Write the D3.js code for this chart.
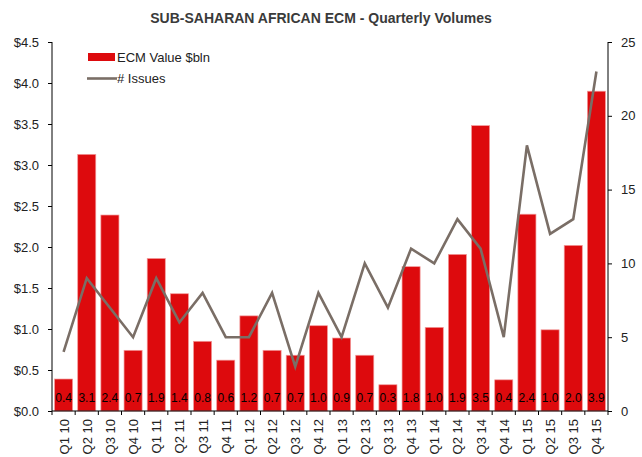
<!DOCTYPE html>
<html>
<head>
<meta charset="utf-8">
<script src="https://cdn.jsdelivr.net/npm/d3@7"></script>
<style>
  body { margin: 0; background: #fff; }
  text { font-family: "Liberation Sans", Arial, sans-serif; }
</style>
</head>
<body>
<div id="chart"></div>
<script>
// quarters, ECM value ($bln) and number of issues
var quarters = ["Q1 10","Q2 10","Q3 10","Q4 10","Q1 11","Q2 11","Q3 11","Q4 11",
                "Q1 12","Q2 12","Q3 12","Q4 12","Q1 13","Q2 13","Q3 13","Q4 13",
                "Q1 14","Q2 14","Q3 14","Q4 14","Q1 15","Q2 15","Q3 15","Q4 15"];
var ecmValues = [0.39, 3.13, 2.39, 0.74, 1.86, 1.43, 0.85, 0.62,
                 1.16, 0.74, 0.68, 1.04, 0.89, 0.68, 0.32, 1.76,
                 1.02, 1.91, 3.48, 0.38, 2.40, 0.99, 2.02, 3.90];
var issues = [4, 9, 7, 5, 9, 6, 8, 5,
              5, 8, 3, 8, 5, 10, 7, 11,
              10, 13, 11, 5, 18, 12, 13, 23];
var leftTicks = [0, 0.5, 1, 1.5, 2, 2.5, 3, 3.5, 4, 4.5];
var rightTicks = [0, 5, 10, 15, 20, 25];

var svgWidth = 642;
var svgHeight = 457;

var margin = { top: 42, right: 34, bottom: 46, left: 52 };
var width = svgWidth - margin.left - margin.right;
var height = svgHeight - margin.top - margin.bottom;

var svg = d3.select("#chart").append("svg")
    .attr("width", svgWidth)
    .attr("height", svgHeight);

var chartGroup = svg.append("g")
    .attr("transform", `translate(${margin.left}, ${margin.top})`);

var data = quarters.map((q, i) => ({ q: q, v: ecmValues[i], n: issues[i] }));

//scales
var xScale = d3.scaleBand()
    .domain(quarters)
    .range([0, width])
    .paddingInner(0.22)
    .paddingOuter(0.11);

var yLeft = d3.scaleLinear().domain([0, 4.5]).range([height, 0]);
var yRight = d3.scaleLinear().domain([0, 25]).range([height, 0]);

//bars
chartGroup.selectAll(".bar")
    .data(data)
    .enter()
    .append("rect")
    .attr("class", "bar")
    .attr("x", d => xScale(d.q))
    .attr("y", d => yLeft(d.v))
    .attr("width", xScale.bandwidth())
    .attr("height", d => height - yLeft(d.v))
    .attr("fill", "#dd0a0d")
    .attr("stroke", "#f29a9a")
    .attr("stroke-width", 0.7);

//value labels at bottom of bars
chartGroup.selectAll(".valLabel")
    .data(data)
    .enter()
    .append("text")
    .attr("class", "valLabel")
    .attr("x", d => xScale(d.q) + xScale.bandwidth() / 2)
    .attr("y", height - 9)
    .attr("text-anchor", "middle")
    .attr("font-size", "12px")
    .attr("fill", "#000")
    .text(d => d.v.toFixed(1));

//issues line
var line = d3.line()
    .x(d => xScale(d.q) + xScale.bandwidth() / 2)
    .y(d => yRight(d.n));

chartGroup.append("path")
    .datum(data)
    .attr("d", line)
    .attr("fill", "none")
    .attr("stroke", "#7a6e66")
    .attr("stroke-width", 2.6)
    .attr("stroke-linejoin", "miter");

//left axis
var leftAxis = d3.axisLeft(yLeft)
    .tickValues(leftTicks)
    .tickSize(4)
    .tickPadding(9)
    .tickFormat(d => "$" + d.toFixed(1));

var gl = chartGroup.append("g").call(leftAxis);

//right axis
var rightAxis = d3.axisRight(yRight)
    .tickValues(rightTicks)
    .tickSize(4)
    .tickPadding(9);

var gr = chartGroup.append("g")
    .attr("transform", `translate(${width}, 0)`)
    .call(rightAxis);

[gl, gr].forEach(function(g) {
    g.select(".domain").remove();
    g.selectAll("line").attr("stroke", "#000");
    g.selectAll("text")
        .attr("font-size", "13px")
        .attr("fill", "#222")
        .style("font-family", "Liberation Sans, Arial, sans-serif");
});

chartGroup.append("line")
    .attr("x1", 0).attr("x2", 0)
    .attr("y1", 0).attr("y2", height)
    .attr("stroke", "#000");
chartGroup.append("line")
    .attr("x1", width).attr("x2", width)
    .attr("y1", 0).attr("y2", height)
    .attr("stroke", "#000");

//bottom axis: line, ticks at band edges, rotated labels
chartGroup.append("line")
    .attr("x1", 0).attr("x2", width)
    .attr("y1", height).attr("y2", height)
    .attr("stroke", "#000");

var edges = d3.range(quarters.length + 1).map(i => i * xScale.step());
chartGroup.selectAll(".xtick")
    .data(edges)
    .enter()
    .append("line")
    .attr("class", "xtick")
    .attr("x1", d => d).attr("x2", d => d)
    .attr("y1", height).attr("y2", height + 4)
    .attr("stroke", "#000");

chartGroup.selectAll(".xLabel")
    .data(quarters)
    .enter()
    .append("text")
    .attr("class", "xLabel")
    .attr("transform", d => `translate(${xScale(d) + xScale.bandwidth() / 2 + 5}, ${height + 8}) rotate(-90)`)
    .attr("text-anchor", "end")
    .attr("font-size", "13px")
    .attr("fill", "#222")
    .text(d => d);

//title
svg.append("text")
    .attr("x", 321)
    .attr("y", 23)
    .attr("text-anchor", "middle")
    .attr("font-size", "14px")
    .attr("font-weight", "bold")
    .attr("fill", "#3a3a3a")
    .text("SUB-SAHARAN AFRICAN ECM - Quarterly Volumes");

//legend
var legend = svg.append("g");
legend.append("rect")
    .attr("x", 88).attr("y", 53)
    .attr("width", 27).attr("height", 8)
    .attr("fill", "#dd0a0d");
legend.append("text")
    .attr("x", 117).attr("y", 62)
    .attr("font-size", "13px")
    .attr("fill", "#222")
    .text("ECM Value $bln");
legend.append("line")
    .attr("x1", 87).attr("x2", 117)
    .attr("y1", 78.5).attr("y2", 78.5)
    .attr("stroke", "#7a6e66")
    .attr("stroke-width", 2.6);
legend.append("text")
    .attr("x", 117).attr("y", 83)
    .attr("font-size", "13px")
    .attr("fill", "#222")
    .text("# Issues");
</script>
</body>
</html>
